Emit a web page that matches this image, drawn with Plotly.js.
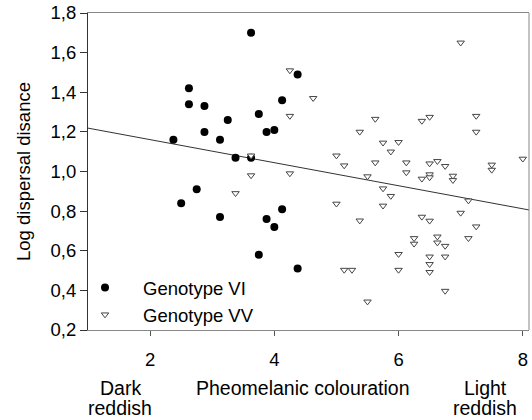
<!DOCTYPE html>
<html>
<head>
<meta charset="utf-8">
<script src="https://cdn.plot.ly/plotly-3.0.1.min.js"></script>
<style>html,body{margin:0;padding:0;background:#fff;}#chart{width:532px;height:420px;}</style>
</head>
<body>
<div id="chart"></div>
<script>
// Genotype VI (filled circles)
const viX = [3.625, 4.375, 2.625, 2.625, 2.875, 4.125, 3.75, 3.25, 2.875, 3.125, 3.875, 4.0, 2.375, 3.375, 3.625, 2.75, 2.5, 3.125, 3.875, 4.125, 4.0, 3.75, 4.375];
const viY = [1.70, 1.49, 1.42, 1.34, 1.33, 1.36, 1.29, 1.26, 1.20, 1.16, 1.20, 1.21, 1.16, 1.07, 1.07, 0.91, 0.84, 0.77, 0.76, 0.81, 0.72, 0.58, 0.51];
// Genotype VV (open down-triangles)
const vvX = [4.25, 4.625, 4.25, 3.625, 3.625, 4.25, 3.375, 7.0, 5.625, 6.375, 6.5, 7.25, 7.25, 5.375, 5.75, 6.0, 5.875, 5.0, 5.125, 5.625, 6.125, 6.5, 6.625, 6.75, 7.5, 7.5, 8.0, 5.5, 6.125, 6.5, 6.5, 6.375, 6.875, 6.875, 5.75, 5.875, 7.125, 5.0, 5.75, 7.0, 5.375, 6.375, 6.5, 7.25, 6.25, 6.25, 6.625, 6.625, 6.75, 7.125, 6.0, 6.5, 6.5, 6.5, 6.75, 5.125, 5.25, 6.0, 6.75, 5.5];
const vvY = [1.51, 1.37, 1.28, 1.08, 0.98, 0.99, 0.89, 1.65, 1.265, 1.255, 1.275, 1.28, 1.20, 1.20, 1.145, 1.148, 1.10, 1.08, 1.03, 1.045, 1.045, 1.04, 1.052, 1.027, 1.034, 1.008, 1.064, 0.975, 0.995, 0.985, 0.97, 0.963, 0.978, 0.956, 0.914, 0.876, 0.853, 0.837, 0.827, 0.791, 0.752, 0.771, 0.751, 0.722, 0.663, 0.635, 0.671, 0.641, 0.624, 0.663, 0.583, 0.570, 0.532, 0.492, 0.570, 0.503, 0.503, 0.503, 0.397, 0.343];
// Regression line (fitted values at axis ends)
const fitX = [1.0, 8.1];
const fitY = [1.219, 0.806];
// Axis ticks
const xTicks = [2, 4, 6, 8];
const yTicks = [0.2, 0.4, 0.6, 0.8, 1.0, 1.2, 1.4, 1.6, 1.8];
const yTickText = ['0,2', '0,4', '0,6', '0,8', '1,0', '1,2', '1,4', '1,6', '1,8'];

const FONT = 'Arial, "Liberation Sans", sans-serif';
const W = 532, H = 420, ML = 88, MR = 3, MT = 13, MB = 90;
const pw = W - ML - MR, ph = H - MT - MB;
const px = v => (v - ML) / pw;
const py = v => (H - MB - v) / ph;

const traces = [
  {x: fitX, y: fitY, mode: 'lines', line: {color: '#333', width: 1}, showlegend: false, hoverinfo: 'skip'},
  {x: viX, y: viY, mode: 'markers', name: 'Genotype VI', marker: {symbol: 'circle', size: 8, color: '#000'}},
  {x: vvX, y: vvY, mode: 'markers', name: 'Genotype VV', marker: {symbol: 'triangle-down', size: 6.5, color: '#fff', line: {color: '#444', width: 1}}}
];

const ann = (text, x, y) => ({xref: 'paper', yref: 'paper', x: px(x), y: py(y), text: text, showarrow: false,
  xanchor: 'center', yanchor: 'middle', font: {family: FONT, size: 19.5, color: '#000'}});

const layout = {
  width: W, height: H,
  margin: {l: ML, r: MR, t: MT, b: MB},
  paper_bgcolor: '#fff', plot_bgcolor: '#fff',
  font: {family: FONT, size: 18, color: '#000'},
  xaxis: {range: [1.0, 8.1], tickvals: xTicks, ticktext: xTicks.map(String), showgrid: false, zeroline: false,
          showline: true, linecolor: '#888', linewidth: 1, mirror: true, ticks: 'outside', ticklen: 5, tickcolor: '#555',
          ticklabelstandoff: 8, tickfont: {family: FONT, size: 18.5, color: '#000'}},
  yaxis: {range: [0.2, 1.8], tickvals: yTicks, ticktext: yTickText, showgrid: false, zeroline: false,
          showline: true, linecolor: '#333', linewidth: 1, ticks: 'outside', ticklen: 7, tickcolor: '#333',
          tickfont: {family: FONT, size: 18.5, color: '#000'},
          title: {text: 'Log dispersal disance', font: {family: FONT, size: 18.5, color: '#000'}, standoff: 15}},
  shapes: [{type: 'line', xref: 'paper', yref: 'paper', x0: 1, x1: 1, y0: 0, y1: 1, line: {color: '#888', width: 1}}],
  legend: {x: px(67), y: py(269), xanchor: 'left', yanchor: 'top', bgcolor: 'rgba(0,0,0,0)', itemwidth: 66,
           font: {family: FONT, size: 18.5, color: '#000'}, tracegroupgap: 0},
  annotations: [
    ann('Pheomelanic colouration', 302.5, 388),
    ann('Dark', 120, 388), ann('reddish', 120, 408),
    ann('Light', 485, 388), ann('reddish', 485, 408)
  ],
  showlegend: true
};

Plotly.newPlot('chart', traces, layout, {displayModeBar: false, staticPlot: true});
</script>
</body>
</html>
